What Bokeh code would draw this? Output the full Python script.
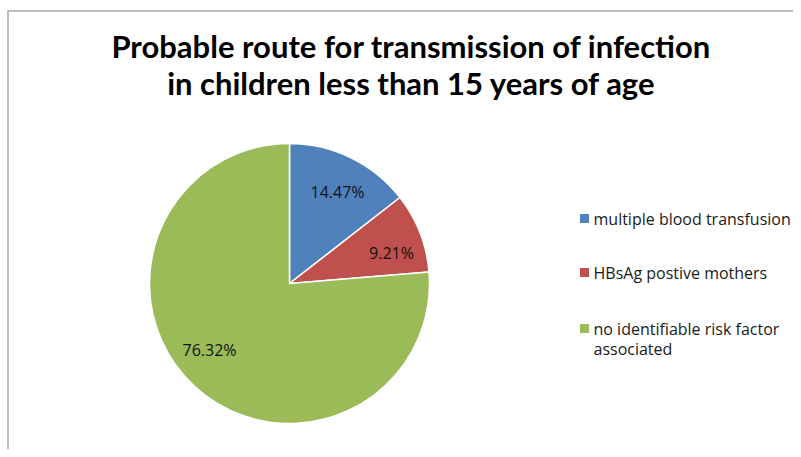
from math import pi
from bokeh.plotting import figure
from bokeh.models import Range1d
from bokeh.core.properties import value
from bokeh.embed import file_html
from bokeh.resources import INLINE

# ---- data ----
title_lines = ["Probable route for transmission of infection",
               "in children less than 15 years of age"]
categories = ["multiple blood transfusion",
              "HBsAg postive mothers",
              "no identifiable  risk factor\nassociated"]
percents = [14.47, 9.21, 76.32]
pct_labels = ["14.47%", "9.21%", "76.32%"]
colors = ["#4F81BD", "#C0504D", "#9BBB59"]

# ---- layout (canvas pixels, y measured from top) ----
W, H = 793, 449
def X(px): return px
def Y(py): return H - py

cx, cy, R = X(289), Y(283), 140
label_dx = [48, 102, -80]
label_dy = [-92, -31, 66]
leg_sq_x = X(584)
leg_y = [218, 272, 328]
leg_text_x = X(593)
leg_line_step = 20

p = figure(width=W, height=H, output_backend="svg", toolbar_location=None,
           x_range=Range1d(0, W), y_range=Range1d(0, H),
           x_axis_type=None, y_axis_type=None, min_border=0)
p.grid.visible = False
p.outline_line_color = None
p.background_fill_color = "white"
p.border_fill_color = "white"

# chart border (cropped frame)
p.line([7.5, 7.5, W + 20], [-20, Y(10.5), Y(10.5)], line_color="#A6A6A6", line_width=1.5)

# pie
total = sum(percents)
starts, ends = [], []
acc = 0.0
for v in percents:
    starts.append(pi / 2 - 2 * pi * acc / total)
    acc += v
    ends.append(pi / 2 - 2 * pi * acc / total)
p.wedge(x=cx, y=cy, radius=R, start_angle=starts, end_angle=ends, direction="clock",
        fill_color=colors, line_color="white", line_width=1.5)

# slice labels
p.text(x=[cx + d for d in label_dx], y=[cy - d for d in label_dy], text=pct_labels,
       text_font=value("Open Sans"), text_font_size="16px", text_color="#111111",
       text_align="center", text_baseline="middle")

# title
p.text(x=[X(411), X(411)], y=[Y(45), Y(82)], text=title_lines,
       text_font=value("Lato"), text_font_size="31px", text_font_style="bold",
       text_color="black", text_align="center", text_baseline="middle")

# legend
p.scatter(x=[leg_sq_x] * 3, y=[Y(v) for v in leg_y], marker="square", size=9,
          fill_color=colors, line_color=None)
lx, ly, lt = [], [], []
for cat, yy in zip(categories, leg_y):
    for i, line in enumerate(cat.split("\n")):
        lx.append(leg_text_x)
        ly.append(Y(yy + i * leg_line_step))
        lt.append(line)
p.text(x=lx, y=ly, text=lt,
       text_font=value("Open Sans"), text_font_size="16px", text_color="#1a1a1a",
       text_align="left", text_baseline="middle")

open("out.html", "w").write(file_html(p, INLINE))
